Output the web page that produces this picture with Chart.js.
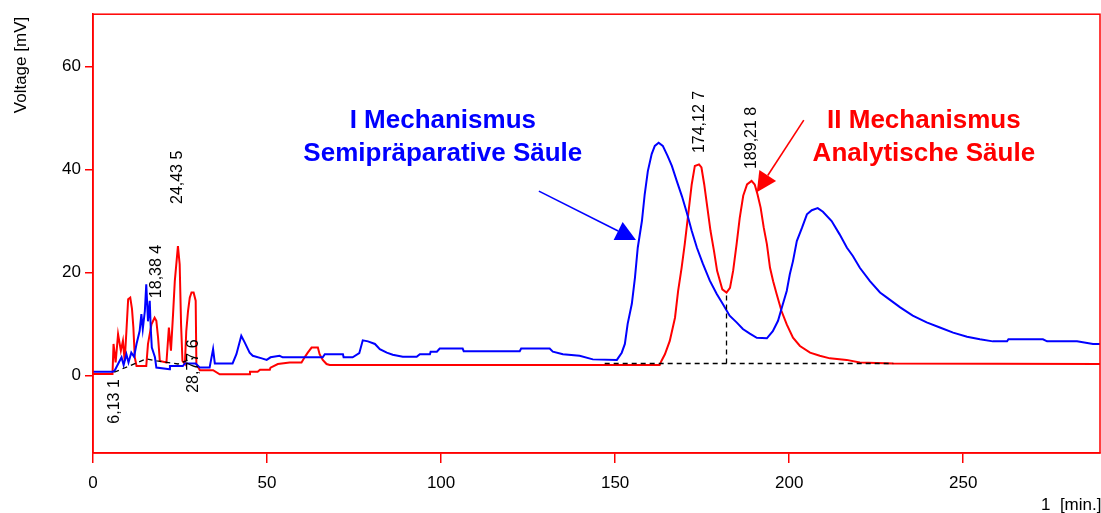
<!DOCTYPE html>
<html>
<head>
<meta charset="utf-8">
<script src="https://cdn.jsdelivr.net/npm/chart.js@4.4.1/dist/chart.umd.min.js"></script>
<style>
  html, body { margin: 0; padding: 0; background: #ffffff; }
  #wrap { width: 1101px; height: 513px; }
</style>
</head>
<body>
<div id="wrap"><canvas id="c" width="1101" height="513"></canvas></div>
<script>
// Chromatogram: detector voltage [mV] against retention time [min]
const blueTime = [0, 5.7, 6.2, 7.2, 8.2, 8.8, 9.6, 10.2, 11.0, 11.8, 12.5, 13.4, 13.9, 14.3, 14.9, 15.3, 15.8, 16.3, 16.6, 16.9, 17.8, 18.2, 22.0, 22.1, 25.8, 26.4, 29.5, 30.7, 33.5, 34.5, 35.0, 36.4, 40.1, 41.2, 42.6, 43.5, 45.0, 45.9, 48.5, 49.9, 51.0, 53.6, 54.5, 66.0, 66.6, 71.8, 72.0, 74.6, 76.5, 77.5, 79.0, 81.0, 82.4, 84.4, 86.1, 89.0, 93.0, 93.9, 96.8, 97.0, 98.8, 99.6, 106.2, 106.5, 122.6, 123.0, 131.2, 132.1, 135.0, 139.8, 143.6, 150.5, 151.9, 152.8, 153.6, 154.8, 155.7, 156.5, 157.7, 158.5, 159.4, 160.5, 161.4, 162.5, 163.7, 165.1, 166.3, 167.7, 169.2, 170.6, 172.0, 173.5, 175.2, 177.2, 179.2, 180.9, 182.9, 184.9, 186.7, 188.7, 190.7, 193.6, 195.3, 196.8, 197.9, 199.3, 200.2, 201.1, 202.2, 203.7, 205.1, 206.5, 208.2, 209.7, 212.2, 214.5, 216.6, 218.3, 220.3, 223.2, 226.1, 228.1, 231.9, 235.5, 239.5, 243.3, 247.1, 251.1, 254.8, 258.5, 262.6, 263.0, 272.9, 274.1, 282.7, 287.3, 289.3];
const blueVoltage = [0.7, 0.7, 0.9, 2.2, 3.5, 2.0, 4.1, 2.5, 4.4, 3.6, 6.1, 8.6, 11.9, 9.0, 12.5, 17.7, 10.5, 14.5, 9.0, 5.4, 3.5, 1.5, 1.2, 1.8, 1.8, 2.3, 2.3, 1.5, 1.5, 5.1, 2.3, 2.3, 2.3, 4.1, 7.7, 6.5, 4.4, 3.8, 3.3, 3.0, 3.5, 3.8, 3.5, 3.5, 4.1, 4.1, 3.5, 3.5, 4.3, 6.8, 6.6, 6.1, 5.1, 4.4, 4.0, 3.6, 3.6, 4.1, 4.1, 4.6, 4.6, 5.2, 5.2, 4.7, 4.7, 5.2, 5.2, 4.6, 4.1, 3.8, 3.1, 3.0, 4.4, 6.1, 10.0, 13.9, 19.0, 24.8, 30.0, 35.2, 39.7, 43.0, 44.6, 45.2, 44.6, 42.6, 40.7, 37.8, 34.8, 31.6, 28.1, 24.8, 21.7, 18.4, 15.8, 13.9, 11.6, 10.3, 9.0, 8.1, 7.3, 7.2, 8.6, 10.6, 13.2, 16.4, 19.7, 22.2, 26.1, 28.7, 31.3, 32.1, 32.5, 31.8, 30.0, 27.4, 24.8, 23.2, 20.9, 18.3, 16.1, 15.1, 13.2, 11.6, 10.3, 9.3, 8.3, 7.5, 7.0, 6.6, 6.6, 7.0, 7.0, 6.6, 6.6, 6.1, 6.1];

const redTime = [0, 5.6, 5.9, 6.5, 7.2, 8.0, 8.6, 9.1, 9.6, 10.1, 10.7, 11.2, 11.6, 12.0, 12.5, 15.3, 15.8, 16.8, 17.7, 18.2, 18.7, 19.2, 21.1, 21.8, 22.4, 23.0, 23.5, 24.4, 24.9, 25.3, 25.7, 26.4, 26.8, 27.3, 27.8, 28.3, 28.9, 29.5, 29.7, 30.7, 34.5, 36.4, 45.0, 45.1, 47.3, 48.0, 50.8, 51.0, 53.1, 56.5, 59.9, 60.8, 61.7, 62.8, 64.6, 65.1, 66.0, 67.1, 68.0, 162.8, 163.3, 164.3, 165.7, 167.2, 168.1, 169.1, 170.0, 171.0, 172.0, 172.9, 174.1, 174.8, 175.6, 176.5, 177.4, 178.4, 179.3, 180.8, 182.0, 183.0, 183.9, 184.9, 185.8, 186.8, 187.9, 189.2, 190.1, 190.9, 191.8, 192.7, 193.6, 194.5, 195.4, 196.4, 197.8, 199.3, 201.1, 203.1, 206.0, 208.8, 211.7, 216.5, 220.3, 229.9, 289.3];
const redVoltage = [0.25, 0.25, 6.1, 2.5, 8.0, 4.8, 6.7, 2.8, 8.6, 14.8, 15.1, 12.9, 9.3, 3.5, 1.8, 1.8, 6.1, 9.9, 11.2, 10.6, 7.3, 2.8, 2.5, 9.3, 4.8, 11.9, 18.3, 25.1, 21.6, 9.9, 2.8, 2.2, 8.6, 12.5, 15.1, 16.1, 16.1, 14.5, 2.2, 1.0, 1.0, 0.2, 0.2, 0.7, 0.7, 1.1, 1.1, 1.5, 2.2, 2.5, 2.5, 3.5, 4.4, 5.4, 5.4, 4.1, 3.0, 2.2, 2.0, 2.0, 2.8, 4.1, 6.7, 11.2, 16.4, 20.9, 25.5, 31.3, 37.1, 40.7, 41.0, 40.4, 37.1, 32.6, 28.1, 24.2, 20.3, 16.7, 16.1, 17.0, 20.3, 25.5, 30.6, 34.9, 37.1, 37.8, 37.1, 35.2, 32.6, 28.7, 25.5, 20.9, 18.3, 15.8, 12.5, 9.9, 7.3, 5.7, 4.4, 3.8, 3.3, 3.0, 2.5, 2.3, 2.2];

const xTicks = [0, 50, 100, 150, 200, 250];
const yTicks = [0, 20, 40, 60];

// Integrated peaks: retention time, printed label, voltage where the label starts
const peakTimes = [6.131, 18.384, 24.435, 28.776, 174.127, 189.218];
const peakLabels = ['6,13 1', '18,38 4', '24,43 5', '28,77 6', '174,12 7', '189,21 8'];
const peakLabelFrom = [-9.4, 15.0, 33.3, -3.4, 43.2, 40.1];

// Integration baselines (dashed)
const earlyBaseTime = [6.1, 15.3, 18.4, 24.4, 28.8];
const earlyBaseLevel = [0.6, 3.2, 2.8, 2.2, 3.3];
const mainBaseTime = [147.0, 229.9];
const mainBaseLevel = 2.3;
const splitTime = 182.0;
const splitTop = 16.1;

// Callouts
const blueNote = ['I Mechanismus', 'Semipräparative Säule'];
const redNote = ['II Mechanismus', 'Analytische Säule'];
const blueNoteAt = [100.5, 49.4, 43.0];
const redNoteAt = [238.7, 49.4, 43.0];
const blueArrow = [128.1, 35.8, 156.0, 26.3];
const redArrow = [204.2, 49.6, 190.7, 35.6];

const FONT = "'Liberation Sans', Arial, sans-serif";
const toPoints = (t, v) => t.map((x, i) => ({ x, y: v[i] }));

function arrow(ctx, x0, y0, x1, y1, color) {
  const ang = Math.atan2(y1 - y0, x1 - x0);
  const len = 20, half = 10;
  const bx = x1 - len * Math.cos(ang), by = y1 - len * Math.sin(ang);
  ctx.strokeStyle = color; ctx.fillStyle = color; ctx.lineWidth = 1.6;
  ctx.setLineDash([]);
  ctx.beginPath(); ctx.moveTo(x0, y0); ctx.lineTo(bx, by); ctx.stroke();
  ctx.beginPath();
  ctx.moveTo(x1, y1);
  ctx.lineTo(bx + half * Math.sin(ang), by - half * Math.cos(ang));
  ctx.lineTo(bx - half * Math.sin(ang), by + half * Math.cos(ang));
  ctx.closePath(); ctx.fill();
}

const overlay = {
  id: 'overlay',
  afterDatasetsDraw(chart) {
    const { ctx, chartArea: a, scales: { x, y } } = chart;
    ctx.save();

    // plot frame
    ctx.strokeStyle = '#ff0000'; ctx.lineWidth = 1.5;
    ctx.strokeRect(a.left, a.top, a.right - a.left, a.bottom - a.top);

    // dashed integration baselines
    ctx.strokeStyle = '#000000'; ctx.lineWidth = 1.3; ctx.setLineDash([5, 4]);
    ctx.beginPath();
    earlyBaseTime.forEach((t, i) => {
      const px = x.getPixelForValue(t), py = y.getPixelForValue(earlyBaseLevel[i]);
      i ? ctx.lineTo(px, py) : ctx.moveTo(px, py);
    });
    ctx.stroke();
    ctx.beginPath();
    ctx.moveTo(x.getPixelForValue(mainBaseTime[0]), y.getPixelForValue(mainBaseLevel));
    ctx.lineTo(x.getPixelForValue(mainBaseTime[1]), y.getPixelForValue(mainBaseLevel));
    ctx.moveTo(x.getPixelForValue(splitTime), y.getPixelForValue(mainBaseLevel));
    ctx.lineTo(x.getPixelForValue(splitTime), y.getPixelForValue(splitTop));
    ctx.stroke();
    ctx.setLineDash([]);

    // retention time labels, written upwards
    ctx.fillStyle = '#000000';
    ctx.font = '16px ' + FONT;
    ctx.textAlign = 'left'; ctx.textBaseline = 'middle';
    peakTimes.forEach((t, i) => {
      ctx.save();
      ctx.translate(x.getPixelForValue(t), y.getPixelForValue(peakLabelFrom[i]));
      ctx.rotate(-Math.PI / 2);
      ctx.fillText(peakLabels[i], 0, 0);
      ctx.restore();
    });

    // callouts
    ctx.font = 'bold 26px ' + FONT;
    ctx.textAlign = 'center';
    [[blueNote, blueNoteAt, '#0000ff'], [redNote, redNoteAt, '#ff0000']].forEach(([lines, at, col]) => {
      ctx.fillStyle = col;
      lines.forEach((s, i) => ctx.fillText(s, x.getPixelForValue(at[0]), y.getPixelForValue(at[1 + i])));
    });
    arrow(ctx, x.getPixelForValue(blueArrow[0]), y.getPixelForValue(blueArrow[1]),
          x.getPixelForValue(blueArrow[2]), y.getPixelForValue(blueArrow[3]), '#0000ff');
    arrow(ctx, x.getPixelForValue(redArrow[0]), y.getPixelForValue(redArrow[1]),
          x.getPixelForValue(redArrow[2]), y.getPixelForValue(redArrow[3]), '#ff0000');

    // axis captions
    ctx.fillStyle = '#000000';
    ctx.font = '17px ' + FONT;
    ctx.save();
    ctx.translate(21, a.top + 99);
    ctx.rotate(-Math.PI / 2);
    ctx.textAlign = 'left'; ctx.textBaseline = 'middle';
    ctx.fillText('Voltage [mV]', 0, 0);
    ctx.restore();
    ctx.textAlign = 'left'; ctx.textBaseline = 'top';
    ctx.fillText('1  [min.]', 1041, 497);

    ctx.restore();
  }
};

new Chart(document.getElementById('c'), {
  type: 'line',
  data: {
    datasets: [
      { data: toPoints(blueTime, blueVoltage), borderColor: '#0000ff', borderWidth: 2, pointRadius: 0, tension: 0, fill: false },
      { data: toPoints(redTime, redVoltage), borderColor: '#ff0000', borderWidth: 2, pointRadius: 0, tension: 0, fill: false }
    ]
  },
  options: {
    responsive: false,
    animation: false,
    events: [],
    layout: { padding: { top: 13, right: 1, left: 0, bottom: 0 } },
    plugins: { legend: { display: false }, tooltip: { enabled: false } },
    scales: {
      x: {
        type: 'linear', min: 0, max: 289.3,
        afterBuildTicks: s => { s.ticks = xTicks.map(v => ({ value: v })); },
        afterFit: s => { s.height = 60; },
        grid: { drawOnChartArea: false, drawTicks: true, tickLength: 10, color: '#ff0000', lineWidth: 1.5 },
        border: { display: true, color: '#ff0000', width: 1.5 },
        ticks: { color: '#000000', font: { family: FONT, size: 17 }, padding: 10, maxRotation: 0 }
      },
      y: {
        type: 'linear', min: -15.1, max: 70.2,
        afterBuildTicks: s => { s.ticks = yTicks.map(v => ({ value: v })); },
        afterFit: s => { s.width = 93; },
        grid: { drawOnChartArea: false, drawTicks: true, tickLength: 8, color: '#ff0000', lineWidth: 1.5 },
        border: { display: true, color: '#ff0000', width: 1.5 },
        ticks: { color: '#000000', font: { family: FONT, size: 17 }, padding: 4 }
      }
    }
  },
  plugins: [overlay]
});
</script>
</body>
</html>
